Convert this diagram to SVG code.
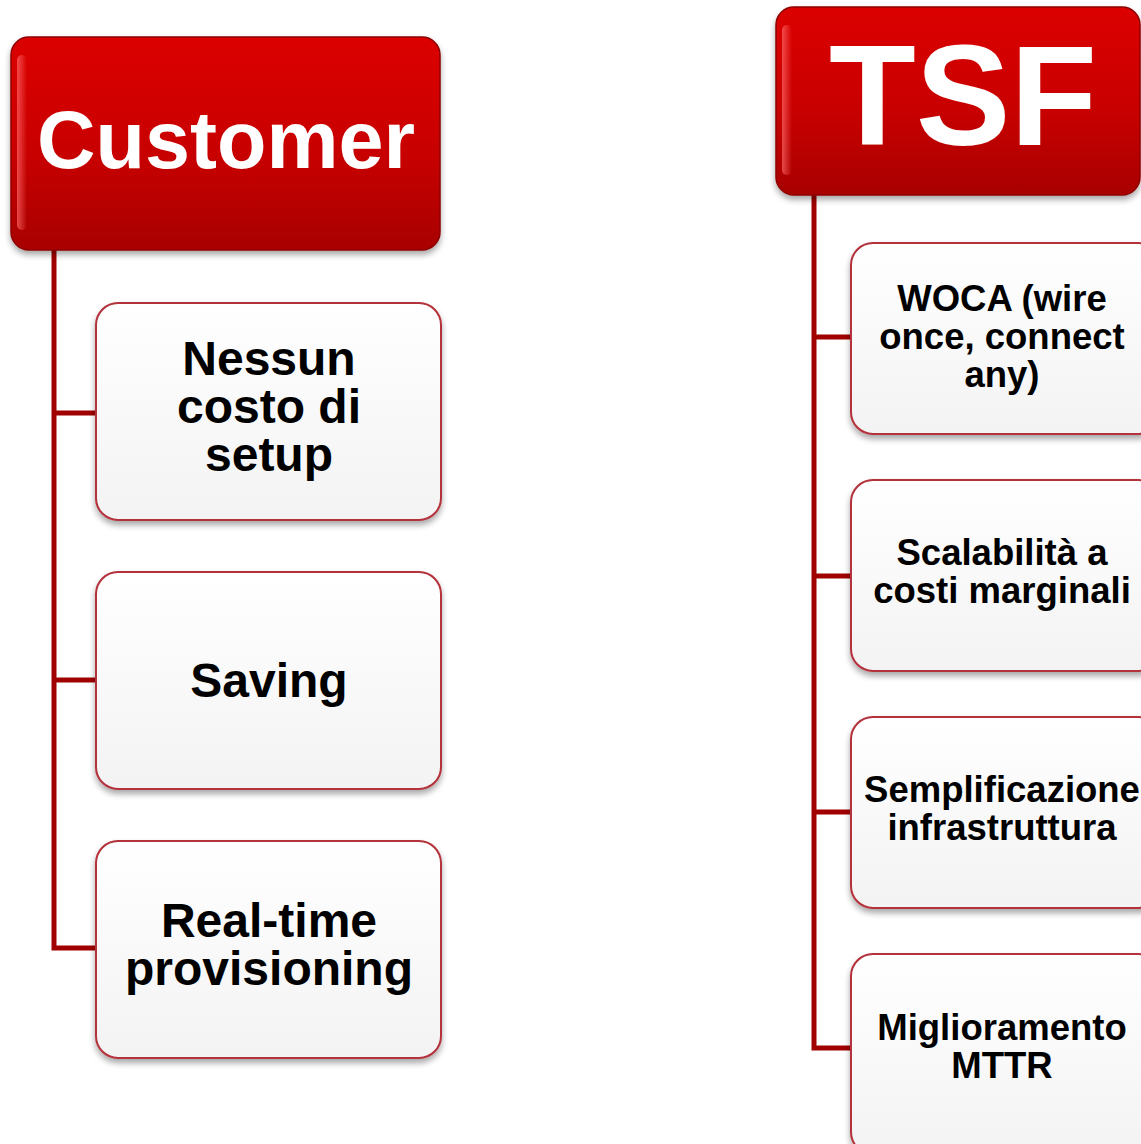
<svg xmlns="http://www.w3.org/2000/svg" width="1141" height="1144" viewBox="0 0 1141 1144">
<defs>
<linearGradient id="hdr" x1="0" y1="0" x2="0" y2="1">
<stop offset="0" stop-color="#dc0000"/>
<stop offset="0.55" stop-color="#c80000"/>
<stop offset="1" stop-color="#a80000"/>
</linearGradient>
<linearGradient id="hl" x1="0" y1="0" x2="1" y2="0">
<stop offset="0" stop-color="#ff6a6a" stop-opacity="0.7"/>
<stop offset="1" stop-color="#ff6a6a" stop-opacity="0"/>
</linearGradient>
<linearGradient id="box" x1="0" y1="0" x2="0" y2="1">
<stop offset="0" stop-color="#ffffff"/>
<stop offset="1" stop-color="#f3f3f3"/>
</linearGradient>
<filter id="sh" x="-10%" y="-10%" width="120%" height="125%">
<feGaussianBlur in="SourceAlpha" stdDeviation="3"/>
<feOffset dx="0" dy="4" result="b"/>
<feComponentTransfer><feFuncA type="linear" slope="0.35"/></feComponentTransfer>
<feMerge><feMergeNode/><feMergeNode in="SourceGraphic"/></feMerge>
</filter>
</defs>
<style>
.hdr{fill:url(#hdr);stroke:#8e0000;stroke-width:1.5}
.hl{fill:url(#hl)}
.box{fill:url(#box);stroke:#b3303a;stroke-width:2}
.conn{fill:none;stroke:#a00000;stroke-width:5}
.ht{font-family:"Liberation Sans",Arial,sans-serif;font-weight:bold;fill:#ffffff;text-anchor:middle}
.bt{font-family:"Liberation Sans",Arial,sans-serif;font-weight:bold;fill:#000000;text-anchor:middle}
.l{font-size:48px}
.s{font-size:36.5px}
</style>
<rect width="1141" height="1144" fill="#ffffff"/>
<g id="connectors">
<path class="conn" d="M54 250 V948 H96 M54 413 H96 M54 680 H96"/>
<path class="conn" d="M814 195 V1048 H851 M814 337 H851 M814 576 H851 M814 812 H851"/>
</g>
<g id="customer">
<rect class="hdr" x="11" y="37" width="429" height="213" rx="18" filter="url(#sh)"/>
<rect class="hl" x="17" y="55" width="10" height="175" rx="5"/>
<text class="ht" x="226" y="168" font-size="81">Customer</text>
</g>
<g id="nessun">
<rect class="box" x="96" y="303" width="345" height="217" rx="22" filter="url(#sh)"/>
<text class="bt l" x="269" y="375">Nessun</text>
<text class="bt l" x="269" y="423">costo di</text>
<text class="bt l" x="269" y="471">setup</text>
</g>
<g id="saving">
<rect class="box" x="96" y="572" width="345" height="217" rx="22" filter="url(#sh)"/>
<text class="bt l" x="269" y="697">Saving</text>
</g>
<g id="realtime">
<rect class="box" x="96" y="841" width="345" height="217" rx="22" filter="url(#sh)"/>
<text class="bt l" x="269" y="937">Real-time</text>
<text class="bt l" x="269" y="985">provisioning</text>
</g>
<g id="tsf">
<rect class="hdr" x="776" y="7" width="364" height="188" rx="18" filter="url(#sh)"/>
<rect class="hl" x="782" y="25" width="10" height="150" rx="5"/>
<text class="ht" x="963" y="145" font-size="142">TSF</text>
</g>
<g id="woca">
<rect class="box" x="851" y="243" width="310" height="191" rx="22" filter="url(#sh)"/>
<text class="bt s" x="1002" y="311">WOCA (wire</text>
<text class="bt s" x="1002" y="349">once, connect</text>
<text class="bt s" x="1002" y="387">any)</text>
</g>
<g id="scalabilita">
<rect class="box" x="851" y="480" width="310" height="191" rx="22" filter="url(#sh)"/>
<text class="bt s" x="1002" y="565">Scalabilità a</text>
<text class="bt s" x="1002" y="603">costi marginali</text>
</g>
<g id="semplificazione">
<rect class="box" x="851" y="717" width="310" height="191" rx="22" filter="url(#sh)"/>
<text class="bt s" x="1002" y="802">Semplificazione</text>
<text class="bt s" x="1002" y="840">infrastruttura</text>
</g>
<g id="miglioramento">
<rect class="box" x="851" y="954" width="310" height="200" rx="22" filter="url(#sh)"/>
<text class="bt s" x="1002" y="1040">Miglioramento</text>
<text class="bt s" x="1002" y="1078">MTTR</text>
</g>
</svg>
